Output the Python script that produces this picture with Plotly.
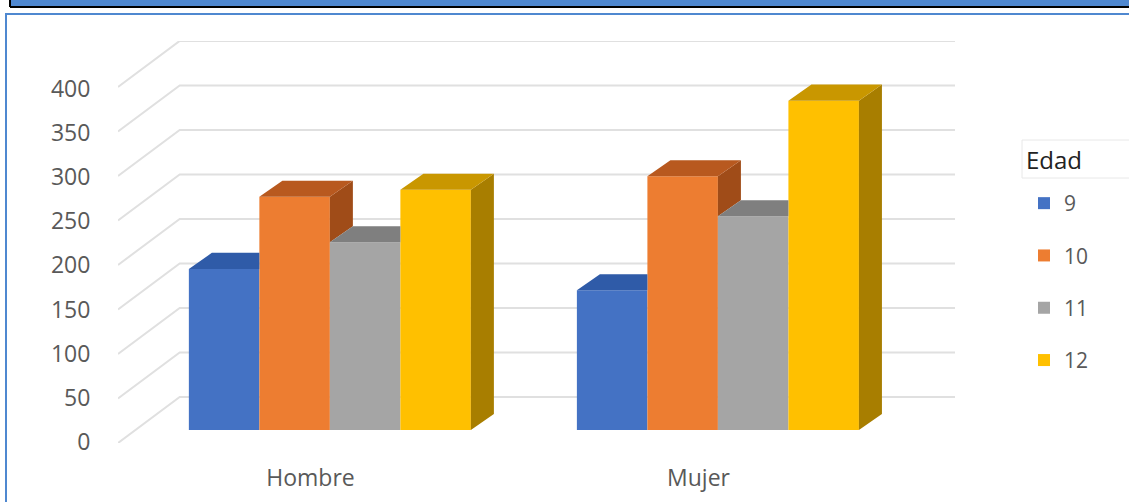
import plotly.graph_objects as go

W, H = 1129, 502
categories = ["Hombre", "Mujer"]
series_names = ["9", "10", "11", "12"]
v9 = [181, 157]
v10 = [262, 285]
v11 = [211, 240]
v12 = [270, 370]
series_values = [v9, v10, v11, v12]
front_colors = ["#4472c4", "#ed7d31", "#a5a5a5", "#ffc000"]
top_colors = ["#2f5ba8", "#b8591f", "#7f7f7f", "#c99700"]
side_colors = ["#264478", "#a04c18", "#6f6f6f", "#a87e00"]
y_ticks = [0, 50, 100, 150, 200, 250, 300, 350, 400]

# plot-area layout
PX_L, PX_R, PX_T, PX_B = 118, 955, 41, 443
X_MIN, X_MAX = -0.546, 1.611
Y_MIN, Y_MAX = -14.6, 437
BAR_W = 0.1817
DX, DY = 0.0593, 18          # bar depth in data units
WALL_X = -0.387              # back-wall corner
WALL_DY = 37.1               # back-wall floor height
TICK_K, TICK_OFF = 0.992, -13.4

fig = go.Figure()

for i, name in enumerate(series_names):
    fig.add_trace(go.Bar(x=[0, 1], y=series_values[i], name=name,
                         marker=dict(color=front_colors[i], line=dict(width=0)),
                         legendgroup=name))

for i, name in enumerate(series_names):
    sx, sy, tx, ty = [], [], [], []
    for g in range(2):
        v = series_values[i][g]
        x0 = g + (i - 2) * BAR_W
        x1 = x0 + BAR_W
        nxt = series_values[i + 1][g] if i < 3 else 0
        xr = x1 if nxt > v else x1 + DX
        tx += [x0, x1, xr, x0 + DX, x0, None]
        ty += [v, v, v + DY, v + DY, v, None]
        if nxt < v:
            sx += [x1, x1 + DX, x1 + DX, x1, x1, None]
            sy += [v, v + DY, nxt + DY, nxt, v, None]
    if sx:
        fig.add_trace(go.Scatter(x=sx, y=sy, mode="lines", fill="toself", fillcolor=side_colors[i],
                                 line=dict(width=0), showlegend=False, hoverinfo="skip"))
    fig.add_trace(go.Scatter(x=tx, y=ty, mode="lines", fill="toself", fillcolor=top_colors[i],
                             line=dict(width=0), showlegend=False, hoverinfo="skip"))

shapes = []
for t in y_ticks:
    shapes.append(dict(type="path", xref="x", yref="y", layer="below",
                       path=f"M {X_MIN} {t + Y_MIN} L {WALL_X} {t + WALL_DY} L {X_MAX} {t + WALL_DY}",
                       line=dict(color="#e0e0e0", width=2)))

# page furniture: banner above, frame round the chart, legend-title box
shapes += [
    dict(type="rect", xref="paper", yref="paper", x0=10 / W, x1=1.01, y0=1 - 7 / H, y1=1.01,
         fillcolor="#4f88d0", line=dict(width=0), layer="below"),
    dict(type="line", xref="paper", yref="paper", x0=10 / W, x1=1.01, y0=1 - 7 / H, y1=1 - 7 / H,
         line=dict(color="#000000", width=2), layer="below"),
    dict(type="line", xref="paper", yref="paper", x0=10 / W, x1=10 / W, y0=1 - 7 / H, y1=1.01,
         line=dict(color="#000000", width=2), layer="below"),
    dict(type="path", xref="paper", yref="paper", layer="below",
         path=f"M {6 / W} -0.01 L {6 / W} {1 - 14 / H} L 1.01 {1 - 14 / H}",
         line=dict(color="#4f88d0", width=2)),
    dict(type="rect", xref="paper", yref="paper", x0=1022 / W, x1=1.01, y0=1 - 178 / H, y1=1 - 140 / H,
         fillcolor="rgba(0,0,0,0)", line=dict(color="#e8e8e8", width=1), layer="below"),
]

fig.update_layout(
    width=W, height=H, autosize=False,
    margin=dict(l=0, r=0, t=0, b=0, pad=0),
    paper_bgcolor="#ffffff", plot_bgcolor="#ffffff",
    barmode="group", bargap=1 - 4 * BAR_W, bargroupgap=0,
    font=dict(family="Open Sans, sans-serif", color="#595959", size=20),
    xaxis=dict(domain=[PX_L / W, PX_R / W], range=[X_MIN, X_MAX], showgrid=False, zeroline=False, automargin=False,
               tickmode="array", tickvals=[-0.05, 0.95], ticktext=categories,
               ticks="outside", ticklen=14, tickcolor="rgba(0,0,0,0)", tickfont=dict(size=23)),
    yaxis=dict(domain=[1 - PX_B / H, 1 - PX_T / H], range=[Y_MIN, Y_MAX], showgrid=False, zeroline=False, automargin=False,
               tickmode="array", tickvals=[t * TICK_K + TICK_OFF for t in y_ticks], ticktext=[str(t) for t in y_ticks],
               ticks="outside", ticklen=22, tickcolor="rgba(0,0,0,0)", tickfont=dict(size=23)),
    shapes=shapes,
    annotations=[dict(text="Edad", xref="paper", yref="paper", x=1024 / W, y=1 - 160 / H,
                      xanchor="left", yanchor="middle", showarrow=False,
                      font=dict(size=24, color="#222222"))],
    legend=dict(x=1024 / W, xanchor="left", y=1 - 183 / H, yanchor="top",
                bgcolor="rgba(0,0,0,0)", borderwidth=0, tracegroupgap=22,
                font=dict(size=21, color="#595959")),
    showlegend=True,
)

fig.write_html("out.html", config=dict(displayModeBar=False), post_script="document.body.style.margin='0';")
